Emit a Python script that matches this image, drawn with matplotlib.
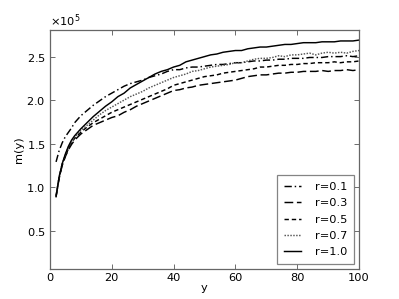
import numpy as np
import matplotlib
matplotlib.use("Agg")
import matplotlib.pyplot as plt
from matplotlib.ticker import ScalarFormatter

x = [2, 3, 4, 5, 6, 7, 8, 10, 12, 14, 16, 18, 20, 22, 24, 26, 28, 30, 32, 34, 36, 38,
     40, 42, 44, 46, 48, 50, 52, 54, 56, 58, 60, 62, 64, 66, 68, 70, 72, 74, 76, 78,
     80, 82, 84, 86, 88, 90, 92, 94, 96, 98, 100]

# values in units of 1e5
m_r01 = [1.29, 1.42, 1.51, 1.58, 1.63, 1.68, 1.74, 1.82, 1.88, 1.94, 1.99, 2.04, 2.08, 2.12,
         2.16, 2.19, 2.21, 2.23, 2.26, 2.28, 2.30, 2.33, 2.35, 2.35, 2.37, 2.38, 2.38, 2.39,
         2.40, 2.41, 2.41, 2.42, 2.43, 2.43, 2.44, 2.45, 2.45, 2.46, 2.46, 2.47, 2.47, 2.48,
         2.48, 2.48, 2.49, 2.49, 2.49, 2.50, 2.50, 2.50, 2.51, 2.50, 2.51]
m_r03 = [0.89, 1.10, 1.25, 1.35, 1.43, 1.49, 1.54, 1.61, 1.66, 1.71, 1.74, 1.77, 1.80, 1.82,
         1.86, 1.89, 1.93, 1.96, 1.99, 2.02, 2.05, 2.08, 2.11, 2.12, 2.14, 2.15, 2.17, 2.18,
         2.19, 2.20, 2.21, 2.22, 2.23, 2.25, 2.27, 2.28, 2.29, 2.29, 2.30, 2.31, 2.31, 2.32,
         2.32, 2.33, 2.33, 2.33, 2.34, 2.33, 2.34, 2.34, 2.35, 2.34, 2.35]
m_r05 = [0.90, 1.11, 1.26, 1.36, 1.44, 1.51, 1.56, 1.63, 1.69, 1.74, 1.78, 1.82, 1.86, 1.89,
         1.92, 1.95, 1.98, 2.01, 2.04, 2.07, 2.10, 2.13, 2.17, 2.19, 2.21, 2.23, 2.25, 2.27,
         2.28, 2.29, 2.31, 2.32, 2.33, 2.34, 2.35, 2.36, 2.38, 2.38, 2.39, 2.40, 2.40, 2.41,
         2.41, 2.42, 2.42, 2.43, 2.43, 2.43, 2.44, 2.43, 2.44, 2.44, 2.45]
m_r07 = [0.90, 1.12, 1.27, 1.37, 1.46, 1.52, 1.57, 1.65, 1.71, 1.77, 1.83, 1.88, 1.92, 1.96,
         2.00, 2.04, 2.07, 2.10, 2.14, 2.17, 2.20, 2.23, 2.26, 2.28, 2.30, 2.33, 2.34, 2.36,
         2.38, 2.39, 2.40, 2.41, 2.43, 2.43, 2.45, 2.47, 2.48, 2.48, 2.49, 2.51, 2.50, 2.52,
         2.52, 2.53, 2.54, 2.52, 2.54, 2.55, 2.54, 2.55, 2.54, 2.56, 2.57]
m_r10 = [0.89, 1.12, 1.27, 1.38, 1.47, 1.54, 1.59, 1.67, 1.74, 1.81, 1.87, 1.93, 1.98, 2.04,
         2.08, 2.14, 2.18, 2.22, 2.26, 2.30, 2.33, 2.35, 2.38, 2.40, 2.44, 2.46, 2.48, 2.50,
         2.52, 2.53, 2.55, 2.56, 2.57, 2.57, 2.59, 2.60, 2.61, 2.61, 2.62, 2.63, 2.64, 2.64,
         2.65, 2.66, 2.66, 2.66, 2.67, 2.67, 2.67, 2.68, 2.68, 2.68, 2.69]

labels = ["r=0.1", "r=0.3", "r=0.5", "r=0.7", "r=1.0"]
series = [m_r01, m_r03, m_r05, m_r07, m_r10]
styles = [(0, (5, 2, 1, 2)), (0, (6, 2.5)), (0, (3, 2)), (0, (1, 1)), "-"]
colors = ["black", "black", "black", "#555555", "black"]

yticks = [0.5, 1.0, 1.5, 2.0, 2.5]
xticks = [0, 20, 40, 60, 80, 100]

FS = 8.2
plt.rcParams["font.family"] = ["DejaVu Sans"]
plt.rcParams["font.size"] = FS

fig = plt.figure(figsize=(3.99, 2.99), dpi=100)
ax = fig.add_axes([0.125, 0.1, 0.775, 0.8])

for vals, lab, ls, c in zip(series, labels, styles, colors):
    ax.plot(x, np.array(vals) * 1e5, linestyle=ls, color=c, lw=1.05, label=lab)

ax.set_xlim(0, 100)
ax.set_ylim(0.058e5, 2.807e5)
ax.set_xticks(xticks)
ax.set_yticks(np.array(yticks) * 1e5)
fmt = ScalarFormatter(useMathText=True)
fmt.set_powerlimits((0, 0))
ax.yaxis.set_major_formatter(fmt)
ax.tick_params(direction="in", top=True, right=True, length=3.5, width=0.6,
               color="#555555", labelsize=FS, pad=3)
for sp in ax.spines.values():
    sp.set_color("#666666")
    sp.set_linewidth(0.9)

ax.set_xlabel("y", fontsize=FS, labelpad=0)
ax.set_ylabel("m(y)", fontsize=FS, labelpad=2)

leg = ax.legend(loc="lower right", fontsize=FS, handlelength=1.5, handletextpad=1.2,
                frameon=True, fancybox=False, borderaxespad=0.45, labelspacing=0.55,
                borderpad=0.6)
leg.get_frame().set_edgecolor("#666666")
leg.get_frame().set_linewidth(0.9)

fig.savefig("out.png", dpi=100)
